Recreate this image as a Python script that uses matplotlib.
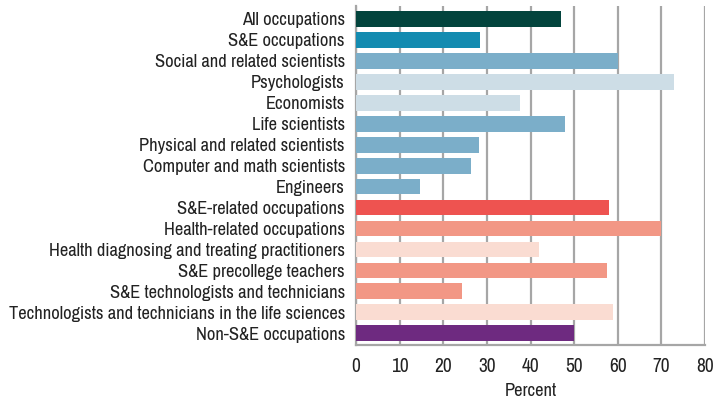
import matplotlib
matplotlib.use("Agg")
import matplotlib.pyplot as plt
from matplotlib import font_manager

categories = [
    "All occupations",
    "S&E occupations",
    "Social and related scientists",
    "Psychologists",
    "Economists",
    "Life scientists",
    "Physical and related scientists",
    "Computer and math scientists",
    "Engineers",
    "S&E-related occupations",
    "Health-related occupations",
    "Health diagnosing and treating practitioners",
    "S&E precollege teachers",
    "S&E technologists and technicians",
    "Technologists and technicians in the life sciences",
    "Non-S&E occupations",
]
values = [47.1, 28.5, 60.0, 73.0, 37.7, 48.0, 28.1, 26.4, 14.7,
          58.1, 70.0, 42.0, 57.6, 24.2, 59.0, 50.0]
colors = ["#03443d", "#138bb0", "#7baec9", "#cddde6", "#cddde6", "#7baec9",
          "#7baec9", "#7baec9", "#7baec9",
          "#ee5350", "#f29785", "#fadcd2", "#f29785", "#f29785", "#fadcd2",
          "#6e2a80"]
xticks = [0, 10, 20, 30, 40, 50, 60, 70, 80]

names = {f.name for f in font_manager.fontManager.ttflist}
fam = "DejaVu Sans"
for cand in ["Archivo Narrow", "Roboto Condensed", "PT Sans Narrow", "Fira Sans Condensed"]:
    if cand in names:
        fam = cand
        break
plt.rcParams["font.family"] = [fam, "DejaVu Sans"]

fig = plt.figure(figsize=(7.27, 4.0), dpi=100)
ax = fig.add_axes([356/727, 1 - 345/400, (705-356)/727, (345-6)/400])

# fit font size so that the longest label is ~335 px wide
renderer = fig.canvas.get_renderer()
probe = fig.text(0, 0, categories[14], fontsize=12)
w = probe.get_window_extent(renderer).width
probe.remove()
fs = 12 * 335.0 / w
fs = max(8, min(fs, 14))

y = list(range(len(categories)))
ax.barh(y, values, color=colors, height=0.76, zorder=3)
ax.set_ylim(len(categories) - 0.5 + 0.05, -0.5 - 0.1)
ax.set_xlim(0, 80)
ax.set_yticks(y)
ax.set_yticklabels(categories, fontsize=fs, color="#222222")
ax.set_xticks(xticks)
ax.set_xticklabels([str(t) for t in xticks], fontsize=fs * 1.05, color="#222222")
ax.tick_params(axis="y", length=0, pad=8)
ax.tick_params(axis="x", length=0, pad=9)
ax.xaxis.grid(True, color="#a6a6a6", linewidth=1.6, zorder=0)
ax.set_axisbelow(True)
for s in ["top", "right"]:
    ax.spines[s].set_visible(False)
for s in ["left", "bottom"]:
    ax.spines[s].set_color("#a6a6a6")
    ax.spines[s].set_linewidth(1.6)
ax.set_xlabel("Percent", fontsize=fs, color="#222222", labelpad=5)

fig.savefig("out.png", dpi=100)
